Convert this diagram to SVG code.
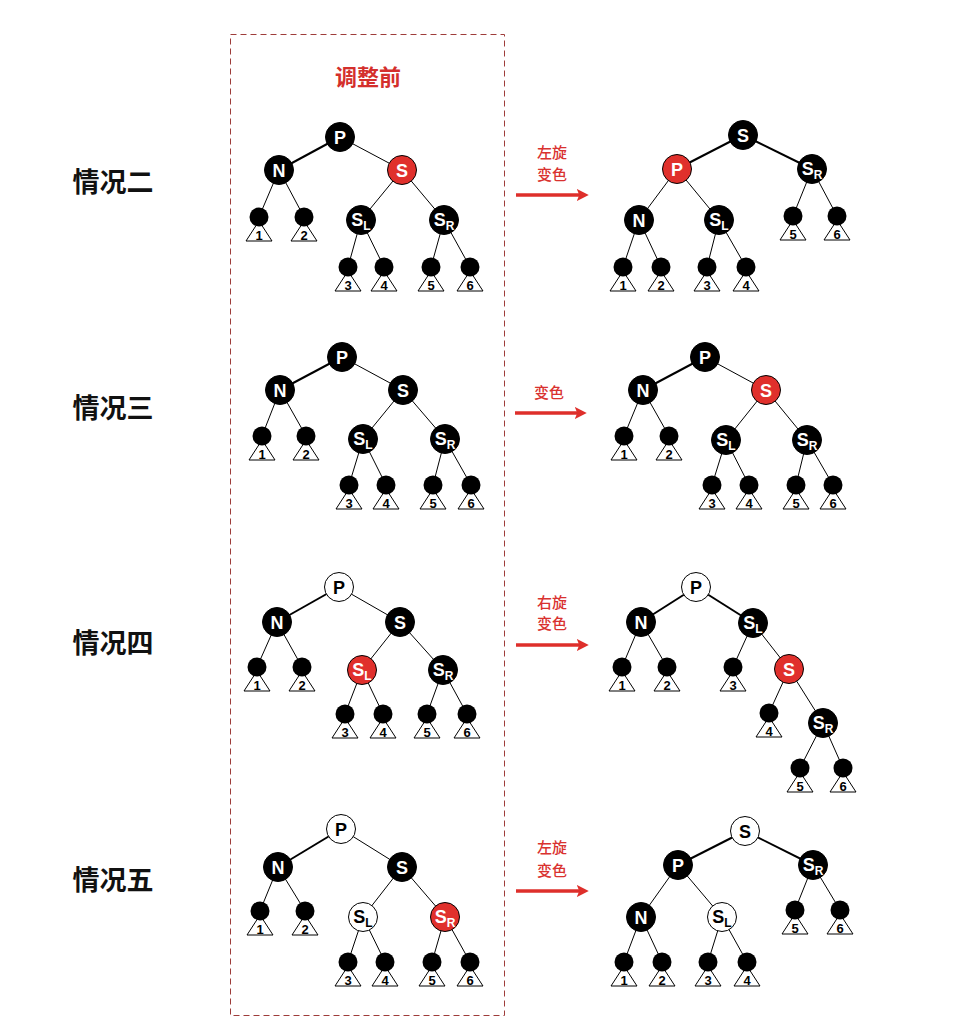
<svg xmlns="http://www.w3.org/2000/svg" width="958" height="1036" viewBox="0 0 958 1036">
<style>
.e{stroke:#000;stroke-width:1;fill:none}
.et{stroke:#000;stroke-width:2;fill:none}
.leaf polygon{fill:#fff;stroke:#000;stroke-width:1}
.leaf circle{fill:#000}
.leaf text{font-family:"Liberation Sans",Arial,sans-serif;font-weight:bold;font-size:13px;fill:#000;text-anchor:middle}
.n circle{stroke:#000;stroke-width:1}
.n text{font-family:"Liberation Sans",Arial,sans-serif;font-weight:bold;font-size:18px;text-anchor:middle}
.n .sub{font-size:12px}
.blk circle{fill:#000}
.blk text,.red text{fill:#fff}
.red circle{fill:#e0302c}
.wht circle{fill:#fff}
.wht text{fill:#000}
.case{font-family:"Noto Sans CJK SC",sans-serif;font-weight:bold;font-size:27px;fill:#111;text-anchor:middle}
.op{font-family:"Noto Sans CJK SC",sans-serif;font-weight:500;font-size:15px;fill:#d9322f;text-anchor:middle}
.title{font-family:"Noto Sans CJK SC",sans-serif;font-weight:bold;font-size:22px;fill:#d42f2c;text-anchor:middle}
.arrow{stroke:#de2f2b;stroke-width:3.5;fill:none}
</style>
<defs>
<marker id="ah" viewBox="0 0 10 10" refX="6" refY="5" markerWidth="3.4" markerHeight="3.4" orient="auto" markerUnits="strokeWidth">
<path d="M0,0 L10,5 L0,10 L2,5 Z" fill="#de2f2b"/>
</marker>
</defs>
<rect width="958" height="1036" fill="#fff"/>
<rect id="before-box" x="230.5" y="34.5" width="274" height="981" fill="none" stroke="#9e3c3a" stroke-width="1" stroke-dasharray="6,4"/>
<text class="title" x="368" y="85">调整前</text>
<g id="labels">
<text class="case" x="113" y="192">情况二</text>
<text class="case" x="113" y="418">情况三</text>
<text class="case" x="113" y="653">情况四</text>
<text class="case" x="113" y="890">情况五</text>
<text class="op" x="552" y="158">左旋</text>
<text class="op" x="552" y="180">变色</text>
<text class="op" x="549" y="398">变色</text>
<text class="op" x="552" y="608">右旋</text>
<text class="op" x="552" y="629">变色</text>
<text class="op" x="552" y="853">左旋</text>
<text class="op" x="552" y="876">变色</text>
</g>
<g id="connectors">
<line class="arrow" x1="516" y1="195" x2="584" y2="195" marker-end="url(#ah)"/>
<line class="arrow" x1="515" y1="413" x2="582" y2="413" marker-end="url(#ah)"/>
<line class="arrow" x1="516" y1="645" x2="584" y2="645" marker-end="url(#ah)"/>
<line class="arrow" x1="516" y1="891" x2="584" y2="891" marker-end="url(#ah)"/>
<line class="et" x1="340" y1="137" x2="279" y2="170"/>
<line class="e" x1="340" y1="137" x2="402" y2="170"/>
<line class="e" x1="279" y1="170" x2="259" y2="217"/>
<line class="e" x1="279" y1="170" x2="304" y2="217"/>
<line class="e" x1="402" y1="170" x2="361" y2="220"/>
<line class="e" x1="402" y1="170" x2="444" y2="220"/>
<line class="e" x1="361" y1="220" x2="348" y2="267"/>
<line class="e" x1="361" y1="220" x2="384" y2="267"/>
<line class="e" x1="444" y1="220" x2="431" y2="267"/>
<line class="e" x1="444" y1="220" x2="470" y2="267"/>
<line class="et" x1="743" y1="135" x2="677" y2="169"/>
<line class="et" x1="743" y1="135" x2="812" y2="169"/>
<line class="e" x1="677" y1="169" x2="639" y2="220"/>
<line class="e" x1="677" y1="169" x2="719" y2="220"/>
<line class="e" x1="812" y1="169" x2="793" y2="216"/>
<line class="e" x1="812" y1="169" x2="837" y2="216"/>
<line class="e" x1="639" y1="220" x2="623" y2="267"/>
<line class="e" x1="639" y1="220" x2="661" y2="267"/>
<line class="e" x1="719" y1="220" x2="707" y2="267"/>
<line class="e" x1="719" y1="220" x2="746" y2="267"/>
<line class="et" x1="342" y1="357" x2="280" y2="390"/>
<line class="e" x1="342" y1="357" x2="403" y2="390"/>
<line class="e" x1="280" y1="390" x2="262" y2="436"/>
<line class="e" x1="280" y1="390" x2="306" y2="436"/>
<line class="e" x1="403" y1="390" x2="363" y2="439"/>
<line class="e" x1="403" y1="390" x2="445" y2="439"/>
<line class="e" x1="363" y1="439" x2="349" y2="485"/>
<line class="e" x1="363" y1="439" x2="386" y2="485"/>
<line class="e" x1="445" y1="439" x2="433" y2="485"/>
<line class="e" x1="445" y1="439" x2="471" y2="485"/>
<line class="et" x1="705" y1="357" x2="643" y2="390"/>
<line class="e" x1="705" y1="357" x2="766" y2="390"/>
<line class="e" x1="643" y1="390" x2="624" y2="436"/>
<line class="e" x1="643" y1="390" x2="669" y2="436"/>
<line class="e" x1="766" y1="390" x2="726" y2="440"/>
<line class="e" x1="766" y1="390" x2="807" y2="440"/>
<line class="e" x1="726" y1="440" x2="712" y2="485"/>
<line class="e" x1="726" y1="440" x2="749" y2="485"/>
<line class="e" x1="807" y1="440" x2="796" y2="485"/>
<line class="e" x1="807" y1="440" x2="833" y2="485"/>
<line class="et" x1="339" y1="587" x2="277" y2="622"/>
<line class="e" x1="339" y1="587" x2="400" y2="622"/>
<line class="e" x1="277" y1="622" x2="257" y2="667"/>
<line class="e" x1="277" y1="622" x2="302" y2="667"/>
<line class="e" x1="400" y1="622" x2="362" y2="670"/>
<line class="e" x1="400" y1="622" x2="443" y2="670"/>
<line class="e" x1="362" y1="670" x2="345" y2="714"/>
<line class="e" x1="362" y1="670" x2="383" y2="714"/>
<line class="e" x1="443" y1="670" x2="427" y2="714"/>
<line class="e" x1="443" y1="670" x2="467" y2="714"/>
<line class="et" x1="696" y1="587" x2="641" y2="622"/>
<line class="et" x1="696" y1="587" x2="753" y2="623"/>
<line class="e" x1="641" y1="622" x2="622" y2="667"/>
<line class="e" x1="641" y1="622" x2="667" y2="667"/>
<line class="e" x1="753" y1="623" x2="733" y2="667"/>
<line class="e" x1="753" y1="623" x2="789" y2="669"/>
<line class="e" x1="789" y1="669" x2="769" y2="713"/>
<line class="e" x1="789" y1="669" x2="823" y2="723"/>
<line class="e" x1="823" y1="723" x2="800" y2="768"/>
<line class="e" x1="823" y1="723" x2="843" y2="768"/>
<line class="et" x1="341" y1="829" x2="278" y2="867"/>
<line class="e" x1="341" y1="829" x2="402" y2="867"/>
<line class="e" x1="278" y1="867" x2="260" y2="911"/>
<line class="e" x1="278" y1="867" x2="305" y2="911"/>
<line class="e" x1="402" y1="867" x2="363" y2="917"/>
<line class="e" x1="402" y1="867" x2="445" y2="917"/>
<line class="e" x1="363" y1="917" x2="348" y2="962"/>
<line class="e" x1="363" y1="917" x2="385" y2="962"/>
<line class="e" x1="445" y1="917" x2="432" y2="962"/>
<line class="e" x1="445" y1="917" x2="470" y2="962"/>
<line class="et" x1="745" y1="831" x2="678" y2="865"/>
<line class="et" x1="745" y1="831" x2="813" y2="865"/>
<line class="e" x1="678" y1="865" x2="641" y2="917"/>
<line class="e" x1="678" y1="865" x2="722" y2="917"/>
<line class="e" x1="813" y1="865" x2="795" y2="910"/>
<line class="e" x1="813" y1="865" x2="840" y2="910"/>
<line class="e" x1="641" y1="917" x2="624" y2="962"/>
<line class="e" x1="641" y1="917" x2="662" y2="962"/>
<line class="e" x1="722" y1="917" x2="708" y2="962"/>
<line class="e" x1="722" y1="917" x2="747" y2="962"/>
</g>

<g id="c2a-P" class="n blk"><circle cx="340" cy="137" r="14.5"/><text x="340" y="143.5">P</text></g>
<g id="c2a-N" class="n blk"><circle cx="279" cy="170" r="14.5"/><text x="279" y="176.5">N</text></g>
<g id="c2a-S" class="n red"><circle cx="402" cy="170" r="14.5"/><text x="402" y="176.5">S</text></g>
<g id="c2a-SL" class="n blk"><circle cx="361" cy="220" r="14.5"/><text x="361" y="226">S<tspan class="sub" dy="4">L</tspan></text></g>
<g id="c2a-SR" class="n blk"><circle cx="444" cy="220" r="14.5"/><text x="444" y="226">S<tspan class="sub" dy="4">R</tspan></text></g>
<g id="c2a-1" class="leaf"><polygon points="259,221 246,241 272,241"/><circle cx="259" cy="217" r="9.5"/><text x="259" y="239.5">1</text></g>
<g id="c2a-2" class="leaf"><polygon points="304,221 291,241 317,241"/><circle cx="304" cy="217" r="9.5"/><text x="304" y="239.5">2</text></g>
<g id="c2a-3" class="leaf"><polygon points="348,271 335,291 361,291"/><circle cx="348" cy="267" r="9.5"/><text x="348" y="289.5">3</text></g>
<g id="c2a-4" class="leaf"><polygon points="384,271 371,291 397,291"/><circle cx="384" cy="267" r="9.5"/><text x="384" y="289.5">4</text></g>
<g id="c2a-5" class="leaf"><polygon points="431,271 418,291 444,291"/><circle cx="431" cy="267" r="9.5"/><text x="431" y="289.5">5</text></g>
<g id="c2a-6" class="leaf"><polygon points="470,271 457,291 483,291"/><circle cx="470" cy="267" r="9.5"/><text x="470" y="289.5">6</text></g>

<g id="c2b-S" class="n blk"><circle cx="743" cy="135" r="14.5"/><text x="743" y="141.5">S</text></g>
<g id="c2b-P" class="n red"><circle cx="677" cy="169" r="14.5"/><text x="677" y="175.5">P</text></g>
<g id="c2b-SR" class="n blk"><circle cx="812" cy="169" r="14.5"/><text x="812" y="175">S<tspan class="sub" dy="4">R</tspan></text></g>
<g id="c2b-N" class="n blk"><circle cx="639" cy="220" r="14.5"/><text x="639" y="226.5">N</text></g>
<g id="c2b-SL" class="n blk"><circle cx="719" cy="220" r="14.5"/><text x="719" y="226">S<tspan class="sub" dy="4">L</tspan></text></g>
<g id="c2b-5" class="leaf"><polygon points="793,220 780,240 806,240"/><circle cx="793" cy="216" r="9.5"/><text x="793" y="238.5">5</text></g>
<g id="c2b-6" class="leaf"><polygon points="837,220 824,240 850,240"/><circle cx="837" cy="216" r="9.5"/><text x="837" y="238.5">6</text></g>
<g id="c2b-1" class="leaf"><polygon points="623,271 610,291 636,291"/><circle cx="623" cy="267" r="9.5"/><text x="623" y="289.5">1</text></g>
<g id="c2b-2" class="leaf"><polygon points="661,271 648,291 674,291"/><circle cx="661" cy="267" r="9.5"/><text x="661" y="289.5">2</text></g>
<g id="c2b-3" class="leaf"><polygon points="707,271 694,291 720,291"/><circle cx="707" cy="267" r="9.5"/><text x="707" y="289.5">3</text></g>
<g id="c2b-4" class="leaf"><polygon points="746,271 733,291 759,291"/><circle cx="746" cy="267" r="9.5"/><text x="746" y="289.5">4</text></g>

<g id="c3a-P" class="n blk"><circle cx="342" cy="357" r="14.5"/><text x="342" y="363.5">P</text></g>
<g id="c3a-N" class="n blk"><circle cx="280" cy="390" r="14.5"/><text x="280" y="396.5">N</text></g>
<g id="c3a-S" class="n blk"><circle cx="403" cy="390" r="14.5"/><text x="403" y="396.5">S</text></g>
<g id="c3a-SL" class="n blk"><circle cx="363" cy="439" r="14.5"/><text x="363" y="445">S<tspan class="sub" dy="4">L</tspan></text></g>
<g id="c3a-SR" class="n blk"><circle cx="445" cy="439" r="14.5"/><text x="445" y="445">S<tspan class="sub" dy="4">R</tspan></text></g>
<g id="c3a-1" class="leaf"><polygon points="262,440 249,460 275,460"/><circle cx="262" cy="436" r="9.5"/><text x="262" y="458.5">1</text></g>
<g id="c3a-2" class="leaf"><polygon points="306,440 293,460 319,460"/><circle cx="306" cy="436" r="9.5"/><text x="306" y="458.5">2</text></g>
<g id="c3a-3" class="leaf"><polygon points="349,489 336,509 362,509"/><circle cx="349" cy="485" r="9.5"/><text x="349" y="507.5">3</text></g>
<g id="c3a-4" class="leaf"><polygon points="386,489 373,509 399,509"/><circle cx="386" cy="485" r="9.5"/><text x="386" y="507.5">4</text></g>
<g id="c3a-5" class="leaf"><polygon points="433,489 420,509 446,509"/><circle cx="433" cy="485" r="9.5"/><text x="433" y="507.5">5</text></g>
<g id="c3a-6" class="leaf"><polygon points="471,489 458,509 484,509"/><circle cx="471" cy="485" r="9.5"/><text x="471" y="507.5">6</text></g>

<g id="c3b-P" class="n blk"><circle cx="705" cy="357" r="14.5"/><text x="705" y="363.5">P</text></g>
<g id="c3b-N" class="n blk"><circle cx="643" cy="390" r="14.5"/><text x="643" y="396.5">N</text></g>
<g id="c3b-S" class="n red"><circle cx="766" cy="390" r="14.5"/><text x="766" y="396.5">S</text></g>
<g id="c3b-SL" class="n blk"><circle cx="726" cy="440" r="14.5"/><text x="726" y="446">S<tspan class="sub" dy="4">L</tspan></text></g>
<g id="c3b-SR" class="n blk"><circle cx="807" cy="440" r="14.5"/><text x="807" y="446">S<tspan class="sub" dy="4">R</tspan></text></g>
<g id="c3b-1" class="leaf"><polygon points="624,440 611,460 637,460"/><circle cx="624" cy="436" r="9.5"/><text x="624" y="458.5">1</text></g>
<g id="c3b-2" class="leaf"><polygon points="669,440 656,460 682,460"/><circle cx="669" cy="436" r="9.5"/><text x="669" y="458.5">2</text></g>
<g id="c3b-3" class="leaf"><polygon points="712,489 699,509 725,509"/><circle cx="712" cy="485" r="9.5"/><text x="712" y="507.5">3</text></g>
<g id="c3b-4" class="leaf"><polygon points="749,489 736,509 762,509"/><circle cx="749" cy="485" r="9.5"/><text x="749" y="507.5">4</text></g>
<g id="c3b-5" class="leaf"><polygon points="796,489 783,509 809,509"/><circle cx="796" cy="485" r="9.5"/><text x="796" y="507.5">5</text></g>
<g id="c3b-6" class="leaf"><polygon points="833,489 820,509 846,509"/><circle cx="833" cy="485" r="9.5"/><text x="833" y="507.5">6</text></g>

<g id="c4a-P" class="n wht"><circle cx="339" cy="587" r="14.5"/><text x="339" y="593.5">P</text></g>
<g id="c4a-N" class="n blk"><circle cx="277" cy="622" r="14.5"/><text x="277" y="628.5">N</text></g>
<g id="c4a-S" class="n blk"><circle cx="400" cy="622" r="14.5"/><text x="400" y="628.5">S</text></g>
<g id="c4a-SL" class="n red"><circle cx="362" cy="670" r="14.5"/><text x="362" y="676">S<tspan class="sub" dy="4">L</tspan></text></g>
<g id="c4a-SR" class="n blk"><circle cx="443" cy="670" r="14.5"/><text x="443" y="676">S<tspan class="sub" dy="4">R</tspan></text></g>
<g id="c4a-1" class="leaf"><polygon points="257,671 244,691 270,691"/><circle cx="257" cy="667" r="9.5"/><text x="257" y="689.5">1</text></g>
<g id="c4a-2" class="leaf"><polygon points="302,671 289,691 315,691"/><circle cx="302" cy="667" r="9.5"/><text x="302" y="689.5">2</text></g>
<g id="c4a-3" class="leaf"><polygon points="345,718 332,738 358,738"/><circle cx="345" cy="714" r="9.5"/><text x="345" y="736.5">3</text></g>
<g id="c4a-4" class="leaf"><polygon points="383,718 370,738 396,738"/><circle cx="383" cy="714" r="9.5"/><text x="383" y="736.5">4</text></g>
<g id="c4a-5" class="leaf"><polygon points="427,718 414,738 440,738"/><circle cx="427" cy="714" r="9.5"/><text x="427" y="736.5">5</text></g>
<g id="c4a-6" class="leaf"><polygon points="467,718 454,738 480,738"/><circle cx="467" cy="714" r="9.5"/><text x="467" y="736.5">6</text></g>

<g id="c4b-P" class="n wht"><circle cx="696" cy="587" r="14.5"/><text x="696" y="593.5">P</text></g>
<g id="c4b-N" class="n blk"><circle cx="641" cy="622" r="14.5"/><text x="641" y="628.5">N</text></g>
<g id="c4b-SL" class="n blk"><circle cx="753" cy="623" r="14.5"/><text x="753" y="629">S<tspan class="sub" dy="4">L</tspan></text></g>
<g id="c4b-S" class="n red"><circle cx="789" cy="669" r="14.5"/><text x="789" y="675.5">S</text></g>
<g id="c4b-SR" class="n blk"><circle cx="823" cy="723" r="14.5"/><text x="823" y="729">S<tspan class="sub" dy="4">R</tspan></text></g>
<g id="c4b-1" class="leaf"><polygon points="622,671 609,691 635,691"/><circle cx="622" cy="667" r="9.5"/><text x="622" y="689.5">1</text></g>
<g id="c4b-2" class="leaf"><polygon points="667,671 654,691 680,691"/><circle cx="667" cy="667" r="9.5"/><text x="667" y="689.5">2</text></g>
<g id="c4b-3" class="leaf"><polygon points="733,671 720,691 746,691"/><circle cx="733" cy="667" r="9.5"/><text x="733" y="689.5">3</text></g>
<g id="c4b-4" class="leaf"><polygon points="769,717 756,737 782,737"/><circle cx="769" cy="713" r="9.5"/><text x="769" y="735.5">4</text></g>
<g id="c4b-5" class="leaf"><polygon points="800,772 787,792 813,792"/><circle cx="800" cy="768" r="9.5"/><text x="800" y="790.5">5</text></g>
<g id="c4b-6" class="leaf"><polygon points="843,772 830,792 856,792"/><circle cx="843" cy="768" r="9.5"/><text x="843" y="790.5">6</text></g>

<g id="c5a-P" class="n wht"><circle cx="341" cy="829" r="14.5"/><text x="341" y="835.5">P</text></g>
<g id="c5a-N" class="n blk"><circle cx="278" cy="867" r="14.5"/><text x="278" y="873.5">N</text></g>
<g id="c5a-S" class="n blk"><circle cx="402" cy="867" r="14.5"/><text x="402" y="873.5">S</text></g>
<g id="c5a-SL" class="n wht"><circle cx="363" cy="917" r="14.5"/><text x="363" y="923">S<tspan class="sub" dy="4">L</tspan></text></g>
<g id="c5a-SR" class="n red"><circle cx="445" cy="917" r="14.5"/><text x="445" y="923">S<tspan class="sub" dy="4">R</tspan></text></g>
<g id="c5a-1" class="leaf"><polygon points="260,915 247,935 273,935"/><circle cx="260" cy="911" r="9.5"/><text x="260" y="933.5">1</text></g>
<g id="c5a-2" class="leaf"><polygon points="305,915 292,935 318,935"/><circle cx="305" cy="911" r="9.5"/><text x="305" y="933.5">2</text></g>
<g id="c5a-3" class="leaf"><polygon points="348,966 335,986 361,986"/><circle cx="348" cy="962" r="9.5"/><text x="348" y="984.5">3</text></g>
<g id="c5a-4" class="leaf"><polygon points="385,966 372,986 398,986"/><circle cx="385" cy="962" r="9.5"/><text x="385" y="984.5">4</text></g>
<g id="c5a-5" class="leaf"><polygon points="432,966 419,986 445,986"/><circle cx="432" cy="962" r="9.5"/><text x="432" y="984.5">5</text></g>
<g id="c5a-6" class="leaf"><polygon points="470,966 457,986 483,986"/><circle cx="470" cy="962" r="9.5"/><text x="470" y="984.5">6</text></g>

<g id="c5b-S" class="n wht"><circle cx="745" cy="831" r="14.5"/><text x="745" y="837.5">S</text></g>
<g id="c5b-P" class="n blk"><circle cx="678" cy="865" r="14.5"/><text x="678" y="871.5">P</text></g>
<g id="c5b-SR" class="n blk"><circle cx="813" cy="865" r="14.5"/><text x="813" y="871">S<tspan class="sub" dy="4">R</tspan></text></g>
<g id="c5b-N" class="n blk"><circle cx="641" cy="917" r="14.5"/><text x="641" y="923.5">N</text></g>
<g id="c5b-SL" class="n wht"><circle cx="722" cy="917" r="14.5"/><text x="722" y="923">S<tspan class="sub" dy="4">L</tspan></text></g>
<g id="c5b-5" class="leaf"><polygon points="795,914 782,934 808,934"/><circle cx="795" cy="910" r="9.5"/><text x="795" y="932.5">5</text></g>
<g id="c5b-6" class="leaf"><polygon points="840,914 827,934 853,934"/><circle cx="840" cy="910" r="9.5"/><text x="840" y="932.5">6</text></g>
<g id="c5b-1" class="leaf"><polygon points="624,966 611,986 637,986"/><circle cx="624" cy="962" r="9.5"/><text x="624" y="984.5">1</text></g>
<g id="c5b-2" class="leaf"><polygon points="662,966 649,986 675,986"/><circle cx="662" cy="962" r="9.5"/><text x="662" y="984.5">2</text></g>
<g id="c5b-3" class="leaf"><polygon points="708,966 695,986 721,986"/><circle cx="708" cy="962" r="9.5"/><text x="708" y="984.5">3</text></g>
<g id="c5b-4" class="leaf"><polygon points="747,966 734,986 760,986"/><circle cx="747" cy="962" r="9.5"/><text x="747" y="984.5">4</text></g>
</svg>
